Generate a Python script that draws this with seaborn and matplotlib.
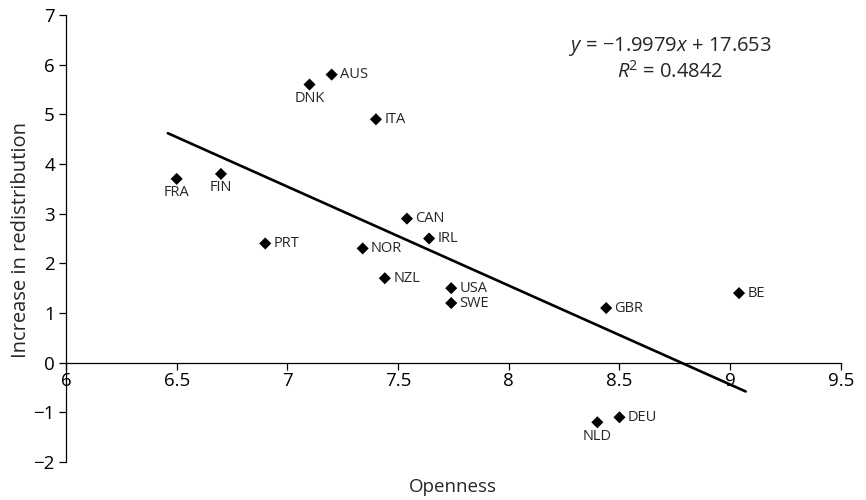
import matplotlib
matplotlib.use("Agg")
import matplotlib.pyplot as plt
import seaborn as sns
import pandas as pd

countries = ["FRA", "FIN", "PRT", "DNK", "AUS", "ITA", "NOR", "NZL", "CAN", "IRL",
             "USA", "SWE", "GBR", "BE", "NLD", "DEU"]
openness = [6.50, 6.70, 6.90, 7.10, 7.20, 7.40, 7.34, 7.44, 7.54, 7.64,
            7.74, 7.74, 8.44, 9.04, 8.40, 8.50]
redistribution = [3.7, 3.8, 2.4, 5.6, 5.8, 4.9, 2.3, 1.7, 2.9, 2.5,
                  1.5, 1.2, 1.1, 1.4, -1.2, -1.1]
label_side = ["below", "below", "right", "below", "right", "right", "right", "right", "right", "right",
              "right", "right", "right", "right", "below", "right"]

# trend line as drawn in the chart (end points)
fit_x = [6.46, 9.07]
fit_y = [4.62, -0.58]
equation = "$y$ = \u22121.9979$x$ + 17.653"
r2_text = "$R$$^2$ = 0.4842"

x_ticks = [6, 6.5, 7, 7.5, 8, 8.5, 9, 9.5]
y_ticks = [-2, -1, 0, 1, 2, 3, 4, 5, 6, 7]

sns.set_style("white")
plt.rcParams["font.family"] = ["Open Sans", "DejaVu Sans"]
plt.rcParams["mathtext.fontset"] = "custom"
plt.rcParams["mathtext.rm"] = "Open Sans"
plt.rcParams["mathtext.it"] = "Open Sans:italic"

df = pd.DataFrame({"country": countries, "x": openness, "y": redistribution, "side": label_side})
fit = pd.DataFrame({"x": fit_x, "y": fit_y})

fig = plt.figure(figsize=(8.66, 5.0), dpi=100)
ax = fig.add_axes([0.0762, 0.076, 0.971 - 0.0762, 0.97 - 0.076])

sns.lineplot(data=fit, x="x", y="y", ax=ax, color="black", linewidth=1.9, zorder=2)
sns.scatterplot(data=df, x="x", y="y", ax=ax, marker="D", s=38, color="black",
                edgecolor="none", zorder=3)

for _, r in df.iterrows():
    if r["side"] == "right":
        ax.annotate(r["country"], (r["x"], r["y"]), xytext=(6, 0), textcoords="offset points",
                    ha="left", va="center", fontsize=10.5)
    else:
        ax.annotate(r["country"], (r["x"], r["y"]), xytext=(0, -4.5), textcoords="offset points",
                    ha="center", va="top", fontsize=10.5)

ax.set_xlim(6, 9.5)
ax.set_ylim(-2, 7)
ax.set_xticks(x_ticks)
ax.set_xticklabels([f"{v:g}" for v in x_ticks])
ax.set_yticks(y_ticks)
ax.set_yticklabels([f"{v:g}".replace("-", "\u2212") for v in y_ticks])

ax.spines["top"].set_visible(False)
ax.spines["right"].set_visible(False)
ax.spines["bottom"].set_position(("data", 0))
for s in ("left", "bottom"):
    ax.spines[s].set_linewidth(0.9)
    ax.spines[s].set_color("black")

ax.tick_params(axis="both", which="major", direction="out", length=5, width=0.9,
               colors="black", labelsize=13.5)
ax.tick_params(axis="x", pad=1.5, bottom=True)
ax.tick_params(axis="y", pad=3, left=True)
for lab in ax.get_xticklabels():
    lab.set_bbox(dict(facecolor="white", edgecolor="none", pad=0.3))

ax.set_xlabel("")
ax.set_ylabel("")
fig.text(0.523, 0.025, "Openness", ha="center", va="center", fontsize=13.5)
fig.text(0.024, 0.52, "Increase in redistribution", ha="center", va="center",
         rotation=90, fontsize=14.5)

fig.text(0.774, 0.906, equation, ha="center", va="center", fontsize=14.5)
fig.text(0.774, 0.856, r2_text, ha="center", va="center", fontsize=14.5)

fig.savefig("out.png", dpi=100)
